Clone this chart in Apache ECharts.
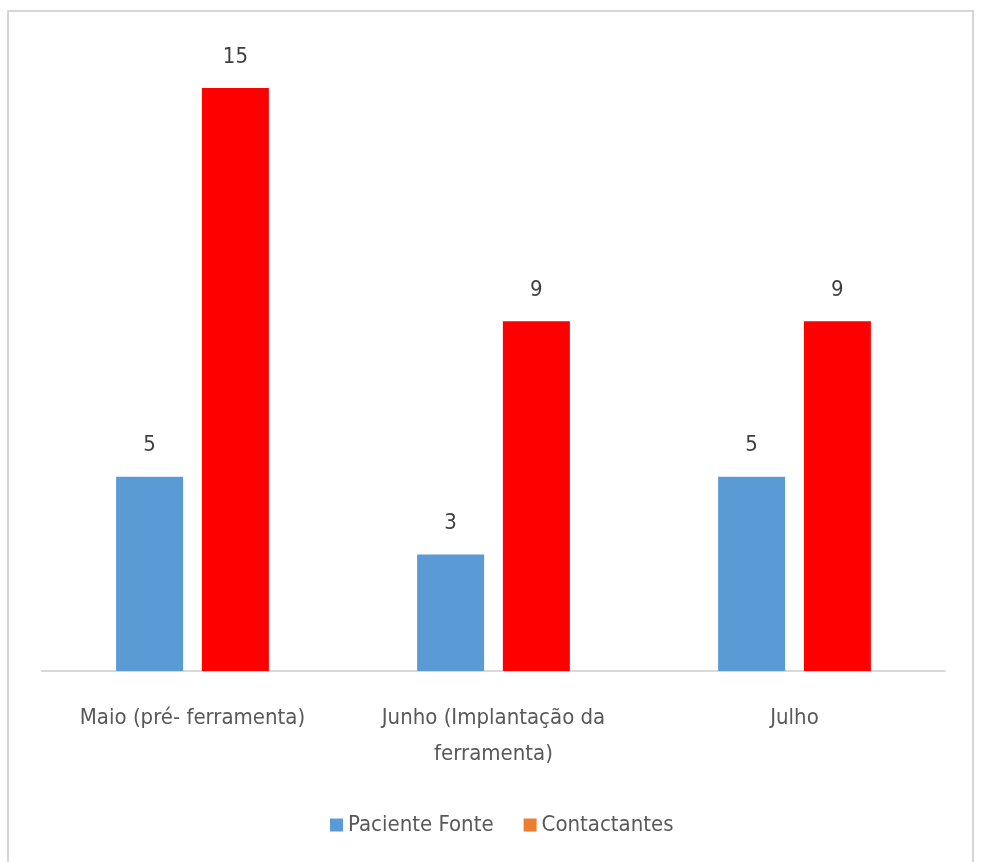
<!DOCTYPE html>
<html>
<head>
<meta charset="utf-8">
<script src="https://cdn.jsdelivr.net/npm/echarts@6/dist/echarts.min.js"></script>
<style>
  html, body { margin: 0; padding: 0; background: #fff; }
  #chart { width: 981px; height: 862px; }
</style>
</head>
<body>
<div id="chart"></div>
<script>
// Monthly counts before and after the tool was introduced
const categories = ['Maio (pré- ferramenta)', 'Junho (Implantação da\nferramenta)', 'Julho'];
const pacienteFonte = [5, 3, 5];
const contactantes = [15, 9, 9];

const FONT = '"Liberation Sans Narrow", "DejaVu Sans Condensed", "Roboto", sans-serif';

const chart = echarts.init(document.getElementById('chart'));
chart.setOption({
  animation: false,
  backgroundColor: '#ffffff',
  graphic: [{
    type: 'rect',
    shape: { x: 8, y: 11, width: 965, height: 870 },
    style: { fill: 'none', stroke: '#d6d6d6', lineWidth: 2 },
    silent: true
  }],
  grid: { left: 42, right: 36, top: 49, bottom: 191, containLabel: false },
  legend: {
    bottom: 21,
    left: 325,
    itemWidth: 13,
    itemHeight: 13,
    itemGap: 30,
    icon: 'rect',
    textStyle: { fontFamily: FONT, fontSize: 22, color: '#595959' },
    data: [
      { name: 'Paciente Fonte', itemStyle: { color: '#5B9BD5' } },
      { name: 'Contactantes', itemStyle: { color: '#ED7D31' } }
    ]
  },
  xAxis: {
    type: 'category',
    data: categories,
    axisLine: { lineStyle: { color: '#d9d9d9', width: 2 } },
    axisTick: { show: false },
    axisLabel: {
      interval: 0,
      margin: 29,
      fontFamily: FONT,
      fontSize: 22,
      lineHeight: 36,
      color: '#595959'
    }
  },
  yAxis: {
    type: 'value',
    min: 0,
    max: 16,
    show: false,
    splitLine: { show: false }
  },
  series: [
    {
      name: 'Paciente Fonte',
      type: 'bar',
      data: pacienteFonte,
      barWidth: 67,
      barGap: '28%',
      itemStyle: { color: '#5B9BD5' },
      label: {
        show: true, position: 'top', distance: 20,
        fontFamily: FONT, fontSize: 22, color: '#404040'
      }
    },
    {
      name: 'Contactantes',
      type: 'bar',
      data: contactantes,
      barWidth: 67,
      barGap: '28%',
      itemStyle: { color: '#FF0000' },
      label: {
        show: true, position: 'top', distance: 20,
        fontFamily: FONT, fontSize: 22, color: '#404040'
      }
    }
  ]
});
</script>
</body>
</html>
